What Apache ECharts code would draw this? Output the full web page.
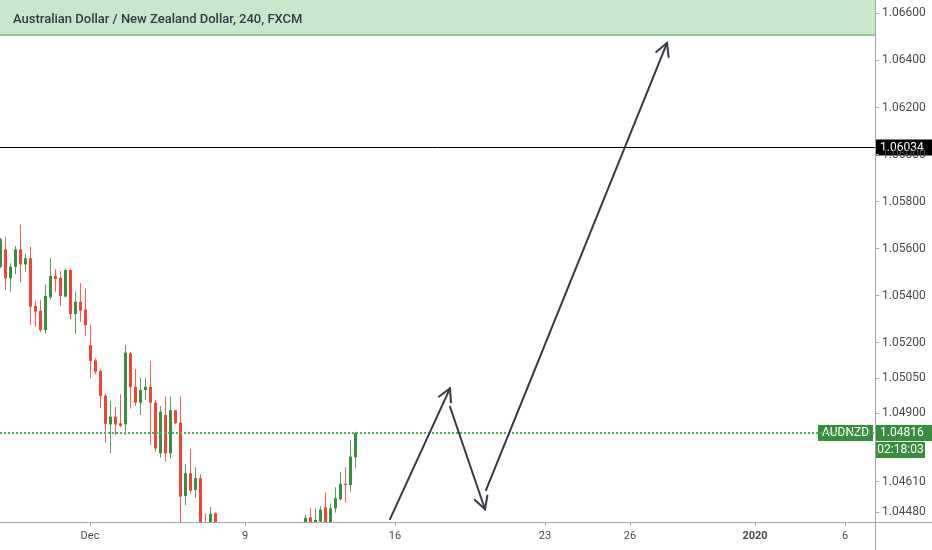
<!DOCTYPE html>
<html><head><meta charset="utf-8">
<script src="https://cdn.jsdelivr.net/npm/echarts@6/dist/echarts.min.js"></script>
<style>html,body{margin:0;padding:0;background:#fff}#c{width:932px;height:550px}</style>
</head><body><div id="c"></div>
<script>
// ---- data ----
const titleText = 'Australian Dollar / New Zealand Dollar, 240, FXCM';
const barCount = 176;
const tickIndex = [18, 49, 79, 109, 126, 151, 169];
const tickText = ['Dec', '9', '16', '23', '26', '2020', '6'];
const priceTicks = [1.0448, 1.0461, 1.049, 1.0505, 1.052, 1.054, 1.056, 1.058, 1.06, 1.062, 1.064, 1.066];
const priceMin = 1.04438;
const priceMax = 1.06657;
// [open, close, low, high]
const candles = [
  [1.05523, 1.05640, 1.05518, 1.05645],
  [1.05597, 1.05474, 1.05424, 1.05651],
  [1.05474, 1.05523, 1.05417, 1.05538],
  [1.05523, 1.05597, 1.05491, 1.05611],
  [1.05597, 1.05533, 1.05457, 1.05703],
  [1.05533, 1.05559, 1.05502, 1.05576],
  [1.05559, 1.05353, 1.05275, 1.05608],
  [1.05356, 1.05332, 1.05268, 1.05377],
  [1.05336, 1.05254, 1.05246, 1.05382],
  [1.05254, 1.05399, 1.05240, 1.05448],
  [1.05393, 1.05484, 1.05385, 1.05559],
  [1.05484, 1.05471, 1.05417, 1.05512],
  [1.05476, 1.05399, 1.05357, 1.05505],
  [1.05396, 1.05509, 1.05393, 1.05516],
  [1.05509, 1.05322, 1.05300, 1.05516],
  [1.05322, 1.05374, 1.05237, 1.05417],
  [1.05374, 1.05336, 1.05289, 1.05453],
  [1.05342, 1.05275, 1.05229, 1.05431],
  [1.05190, 1.05122, 1.05049, 1.05275],
  [1.05125, 1.05077, 1.05066, 1.05134],
  [1.05080, 1.04974, 1.04924, 1.05087],
  [1.04975, 1.04855, 1.04775, 1.04982],
  [1.04853, 1.04886, 1.04730, 1.04952],
  [1.04886, 1.04853, 1.04808, 1.04928],
  [1.04858, 1.04847, 1.04841, 1.04981],
  [1.04853, 1.05158, 1.04808, 1.05190],
  [1.05155, 1.05011, 1.04921, 1.05162],
  [1.05013, 1.04945, 1.04931, 1.05088],
  [1.04945, 1.04999, 1.04893, 1.05051],
  [1.04999, 1.05013, 1.04957, 1.05051],
  [1.05013, 1.04945, 1.04765, 1.05122],
  [1.04945, 1.04751, 1.04737, 1.04957],
  [1.04730, 1.04907, 1.04711, 1.04931],
  [1.04893, 1.04730, 1.04694, 1.04971],
  [1.04730, 1.04913, 1.04709, 1.04971],
  [1.04913, 1.04858, 1.04853, 1.04914],
  [1.04860, 1.04546, 1.04410, 1.04971],
  [1.04549, 1.04645, 1.04510, 1.04683],
  [1.04645, 1.04571, 1.04560, 1.04748],
  [1.04574, 1.04624, 1.04539, 1.04671],
  [1.04624, 1.04425, 1.04405, 1.04641],
  [1.04425, 1.04395, 1.04380, 1.04475],
  [1.04400, 1.04472, 1.04390, 1.04502],
  [1.04475, 1.04360, 1.04340, 1.04478],
  [1.04360, 1.04310, 1.04280, 1.04375],
  [1.04310, 1.04285, 1.04250, 1.04340],
  [1.04285, 1.04330, 1.04260, 1.04360],
  [1.04330, 1.04270, 1.04240, 1.04350],
  [1.04270, 1.04220, 1.04190, 1.04300],
  [1.04210, 1.04180, 1.04150, 1.04240],
  [1.04180, 1.04230, 1.04160, 1.04260],
  [1.04230, 1.04190, 1.04170, 1.04270],
  [1.04190, 1.04140, 1.04110, 1.04220],
  [1.04140, 1.04170, 1.04100, 1.04200],
  [1.04170, 1.04120, 1.04090, 1.04190],
  [1.04120, 1.04180, 1.04100, 1.04210],
  [1.04180, 1.04230, 1.04150, 1.04260],
  [1.04230, 1.04200, 1.04170, 1.04270],
  [1.04200, 1.04270, 1.04180, 1.04300],
  [1.04270, 1.04320, 1.04250, 1.04350],
  [1.04320, 1.04380, 1.04300, 1.04410],
  [1.04420, 1.04456, 1.04400, 1.04468],
  [1.04458, 1.04425, 1.04410, 1.04496],
  [1.04425, 1.04447, 1.04415, 1.04496],
  [1.04440, 1.04490, 1.04430, 1.04505],
  [1.04500, 1.04430, 1.04420, 1.04563],
  [1.04430, 1.04496, 1.04420, 1.04515],
  [1.04496, 1.04539, 1.04478, 1.04586],
  [1.04535, 1.04600, 1.04529, 1.04652],
  [1.04600, 1.04595, 1.04520, 1.04671],
  [1.04595, 1.04716, 1.04567, 1.04787],
  [1.04713, 1.04816, 1.04666, 1.04822]
];
const lastPrice = 1.04816;
const levelPrice = 1.06034;
const zoneBottom = 1.0651;
const symbolName = 'AUDNZD';
const countdown = '02:18:03';
// arrows: [x1(bar), y1(price), x2(bar), y2(price)]
const arrows = [
  [78, 1.04450, 90, 1.05006],
  [90, 1.04928, 97, 1.04492],
  [97.2, 1.04574, 133.4, 1.06474]
];

// ---- chart ----
const UP = '#388e3c', DOWN = '#f44336';
const FONT = 'Roboto';
const AXIS_COLOR = '#a3a6ae';
const categories = Array.from({length: barCount}, (_, i) => String(i));
const tickSet = new Map(tickIndex.map((k, j) => [k, tickText[j]]));
const candleData = candles.map((d, i) => [i, d[0], d[1], d[2], d[3]]);

const chart = echarts.init(document.getElementById('c'), null, {renderer: 'canvas'});
const GRID = {left: 0, right: 57, top: 0, bottom: 28};

// horizontal price line drawn through the y scale
function hLineSeries(value, stroke, width, dash, z) {
  return {
    type: 'custom', xAxisIndex: 1, yAxisIndex: 0, data: [[0, value]], silent: true, z, clip: false,
    renderItem: (params, api) => {
      const cs = params.coordSys;
      const y = Math.round(api.coord([0, api.value(1)])[1]) + (width % 2 === 1 ? 0.5 : 0);
      return {type: 'line', shape: {x1: cs.x, y1: y, x2: cs.x + cs.width, y2: y},
        style: {stroke, lineWidth: width, lineDash: dash, fill: null}};
    }
  };
}

chart.setOption({
  animation: false,
  backgroundColor: '#ffffff',
  textStyle: {fontFamily: FONT},
  title: {text: titleText, left: 8, top: 8,
    textStyle: {fontSize: 13, fontWeight: 500, color: '#363a45', fontFamily: FONT}},
  grid: GRID,
  xAxis: [{
    type: 'category', data: categories, boundaryGap: false,
    axisLine: {show: true, onZero: false, lineStyle: {color: AXIS_COLOR, width: 1}},
    axisTick: {show: true, length: 4, interval: (i) => tickSet.has(i), lineStyle: {color: AXIS_COLOR}},
    axisLabel: {show: true, interval: (i) => tickSet.has(i), margin: 9, fontSize: 11, color: '#4a4a4a',
      formatter: (v, i) => { const t = tickSet.get(i); return t === '2020' ? '{b|2020}' : (t || ''); },
      rich: {b: {fontWeight: 'bold', fontSize: 11, color: '#4a4a4a'}}},
    splitLine: {show: false}
  }, {
    type: 'value', min: 0, max: barCount - 1, show: false,
    axisLine: {show: false, onZero: false}
  }],
  yAxis: {
    type: 'value', position: 'right', min: priceMin, max: priceMax, scale: true,
    axisLine: {show: true, onZero: false, lineStyle: {color: AXIS_COLOR}},
    axisTick: {show: true, length: 4, customValues: priceTicks, lineStyle: {color: AXIS_COLOR}},
    axisLabel: {show: true, customValues: priceTicks, margin: 7, fontSize: 12, color: '#4a4a4a',
      formatter: (v) => v.toFixed(5)},
    splitLine: {show: false}
  },
  series: [{
    type: 'custom', name: symbolName, xAxisIndex: 0, yAxisIndex: 0,
    data: candleData, clip: true, silent: true, z: 3,
    encode: {x: 0, y: [1, 2, 3, 4]},
    renderItem: (params, api) => {
      const i = api.value(0);
      const o = api.value(1), c = api.value(2), l = api.value(3), h = api.value(4);
      const pO = api.coord([i, o]), pC = api.coord([i, c]);
      const pL = api.coord([i, l]), pH = api.coord([i, h]);
      const x = Math.round(pO[0]);
      const color = c >= o ? UP : DOWN;
      const top = Math.min(pO[1], pC[1]);
      const bot = Math.max(pO[1], pC[1]);
      return {type: 'group', children: [
        {type: 'rect', shape: {x: x, y: pH[1], width: 1, height: Math.max(1, pL[1] - pH[1])},
          style: {fill: color, opacity: 0.85}},
        {type: 'rect', shape: {x: x - 1, y: top, width: 3, height: Math.max(1, bot - top)},
          style: {fill: color}}
      ]};
    },
    markArea: {silent: true, z: 0, itemStyle: {color: '#c8e6c9'},
      data: [[{yAxis: zoneBottom}, {yAxis: priceMax}]]}
  },
  hLineSeries(zoneBottom, '#8ccd8f', 2, null, 2),
  hLineSeries(levelPrice, '#000000', 1, null, 4),
  hLineSeries(lastPrice, '#4caf50', 2, [2, 2], 4),
  {
    type: 'custom', xAxisIndex: 1, yAxisIndex: 0, data: arrows, z: 5, silent: true,
    renderItem: (params, api) => {
      const p1 = api.coord([api.value(0), api.value(1)]);
      const p2 = api.coord([api.value(2), api.value(3)]);
      const ang = Math.atan2(p2[1] - p1[1], p2[0] - p1[0]);
      const L = 14, a = 0.5;
      const h1 = [p2[0] - L * Math.cos(ang - a), p2[1] - L * Math.sin(ang - a)];
      const h2 = [p2[0] - L * Math.cos(ang + a), p2[1] - L * Math.sin(ang + a)];
      const style = {stroke: '#363a45', lineWidth: 2, fill: null, lineCap: 'round', lineJoin: 'miter'};
      return {type: 'group', children: [
        {type: 'line', shape: {x1: p1[0], y1: p1[1], x2: p2[0], y2: p2[1]}, style},
        {type: 'polyline', shape: {points: [h1, p2, h2]}, style}
      ]};
    }
  }]
});

// price-scale boxes placed through the axis scale
const yLast = Math.round(chart.convertToPixel({yAxisIndex: 0}, lastPrice));
const yLevel = Math.round(chart.convertToPixel({yAxisIndex: 0}, levelPrice)) + 0.5;
const axisX = 932 - GRID.right;
const plotBottom = 550 - GRID.bottom;
const txt = (x, y, text, align) => ({type: 'text', x, y,
  style: {text, fill: '#fff', font: '12px ' + FONT, align: align || 'center', verticalAlign: 'middle'}});
chart.setOption({graphic: [
  {type: 'line', shape: {x1: axisX + 0.5, y1: plotBottom, x2: axisX + 0.5, y2: 550}, style: {stroke: AXIS_COLOR, lineWidth: 1}, z: 10},
  {type: 'line', shape: {x1: axisX, y1: plotBottom + 0.5, x2: 932, y2: plotBottom + 0.5}, style: {stroke: AXIS_COLOR, lineWidth: 1}, z: 10},
  {type: 'group', z: 20, children: [
    {type: 'rect', shape: {x: axisX + 1, y: yLevel - 8, width: 56, height: 16}, style: {fill: '#000'}},
    txt(axisX + 5, yLevel, levelPrice.toFixed(5), 'left'),
    {type: 'rect', shape: {x: axisX - 57, y: yLast - 8, width: 55, height: 16}, style: {fill: UP}},
    txt(axisX - 29.5, yLast, symbolName),
    {type: 'rect', shape: {x: axisX + 1, y: yLast - 8, width: 56, height: 16}, style: {fill: UP}},
    txt(axisX + 5, yLast, lastPrice.toFixed(5), 'left'),
    {type: 'rect', shape: {x: axisX + 1, y: yLast + 9, width: 49, height: 16}, style: {fill: UP}},
    txt(axisX + 25.5, yLast + 17, countdown)
  ]}
]});
</script></body></html>
